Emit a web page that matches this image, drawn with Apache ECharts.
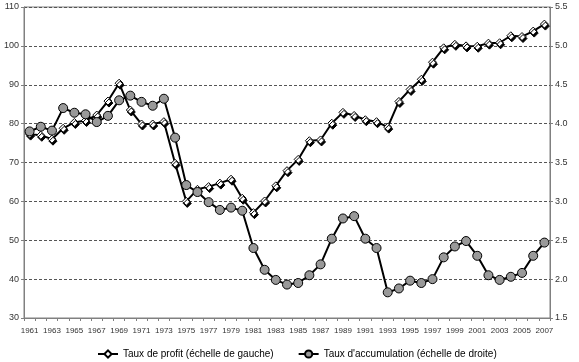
<!DOCTYPE html>
<html>
<head>
<meta charset="utf-8">
<script src="https://cdn.jsdelivr.net/npm/echarts@6/dist/echarts.min.js"></script>
<style>
html,body{margin:0;padding:0;background:#fff;}
#c{width:579px;height:362px;}
</style>
</head>
<body>
<div id="c"></div>
<script>
const years = [];
for (let y = 1961; y <= 2007; y++) years.push(String(y));

const profitName = "Taux de profit (échelle de gauche)";
const accumName = "Taux d'accumulation (échelle de droite)";

const profit = [
  77.3, 77.0, 76.0, 78.8, 80.3, 80.8, 82.2, 85.8, 90.4, 83.5,
  79.9, 79.9, 80.5, 69.8, 60.0, 63.1, 63.8, 64.7, 65.7, 60.8,
  57.1, 60.1, 64.0, 67.9, 70.8, 75.6, 75.8, 80.1, 82.9, 82.1,
  81.0, 80.5, 79.1, 85.7, 88.8, 91.4, 95.8, 99.5, 100.4, 100.0,
  99.9, 100.7, 100.8, 102.6, 102.4, 103.8, 105.6
];

const accumulation = [
  3.90, 3.96, 3.91, 4.20, 4.14, 4.12, 4.02, 4.10, 4.30, 4.36,
  4.28, 4.23, 4.32, 3.82, 3.21, 3.12, 2.99, 2.89, 2.92, 2.88,
  2.40, 2.12, 1.99, 1.93, 1.95, 2.05, 2.19, 2.52, 2.78, 2.81,
  2.52, 2.40, 1.83, 1.88, 1.98, 1.95, 2.00, 2.28, 2.42, 2.49,
  2.30, 2.05, 1.99, 2.03, 2.08, 2.30, 2.47
];

const leftMin = 30, leftMax = 110, leftStep = 10;
const rightMin = 1.5, rightMax = 5.5, rightStep = 0.5;

const chart = echarts.init(document.getElementById('c'), null, {renderer: 'canvas'});
const axisColor = '#808080';
const labelColor = '#333';
chart.setOption({
  animation: false,
  backgroundColor: '#fff',
  textStyle: {fontFamily: 'Liberation Sans, Arial, sans-serif'},
  grid: {left: 24, right: 29, top: 7, bottom: 44, show: true, borderColor: axisColor, borderWidth: 1},
  legend: {
    left: 92, top: 344,
    itemWidth: 20, itemHeight: 9, itemGap: 24,
    textStyle: {fontSize: 10, color: '#000', fontFamily: 'Liberation Sans, Arial, sans-serif'},
    data: [profitName, accumName]
  },
  xAxis: {
    type: 'category',
    data: years,
    boundaryGap: true,
    axisLine: {lineStyle: {color: axisColor, width: 1}},
    axisTick: {show: true, interval: 0, length: 3, lineStyle: {color: axisColor}},
    axisLabel: {interval: 1, margin: 9, fontSize: 8, color: labelColor,
      fontFamily: 'Liberation Sans Narrow, Liberation Sans, Arial, sans-serif'},
    splitLine: {show: false}
  },
  yAxis: [{
    type: 'value', min: leftMin, max: leftMax, interval: leftStep,
    axisLine: {show: true, lineStyle: {color: axisColor}},
    axisTick: {show: true, length: 3, lineStyle: {color: axisColor}},
    axisLabel: {fontSize: 9, color: labelColor, margin: 5},
    splitLine: {show: true, lineStyle: {color: '#555', width: 1, type: [3, 2]}}
  }, {
    type: 'value', min: rightMin, max: rightMax, interval: rightStep,
    position: 'right',
    axisLine: {show: true, lineStyle: {color: axisColor}},
    axisTick: {show: true, length: 3, lineStyle: {color: axisColor}},
    axisLabel: {fontSize: 9, color: labelColor, margin: 5, formatter: v => v.toFixed(1)},
    splitLine: {show: false}
  }],
  series: [{
    name: profitName,
    type: 'line',
    yAxisIndex: 0,
    data: profit,
    symbol: 'diamond',
    symbolSize: 8,
    showAllSymbol: true,
    lineStyle: {color: '#000', width: 2},
    itemStyle: {color: '#fff', borderColor: '#000', borderWidth: 1,
      shadowColor: '#000', shadowBlur: 0, shadowOffsetX: 1, shadowOffsetY: 2}
  }, {
    name: accumName,
    type: 'line',
    yAxisIndex: 1,
    data: accumulation,
    symbol: 'circle',
    symbolSize: 9,
    showAllSymbol: true,
    lineStyle: {color: '#000', width: 2},
    itemStyle: {color: '#999', borderColor: '#000', borderWidth: 1}
  }]
});
</script>
</body>
</html>
